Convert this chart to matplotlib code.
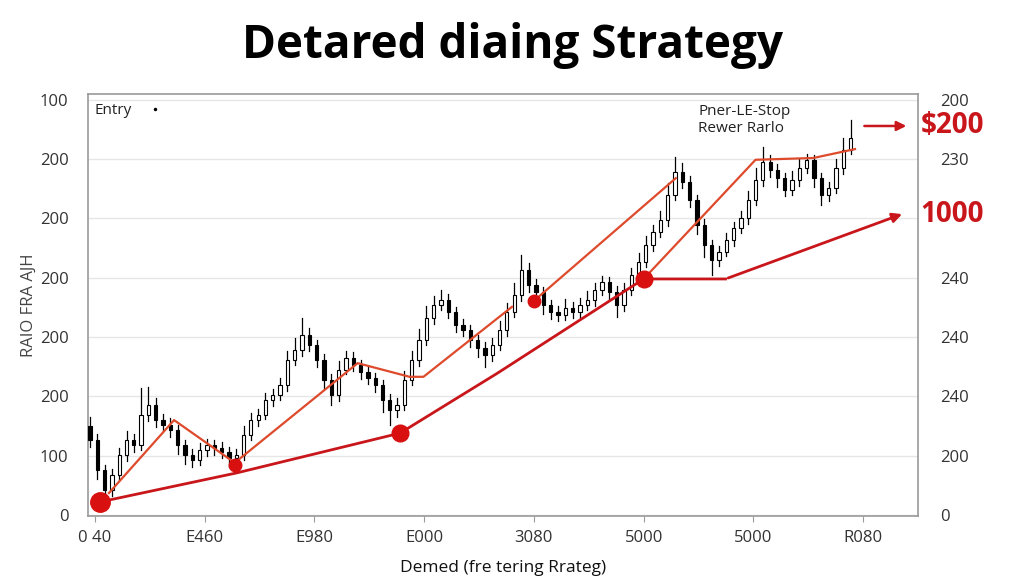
import numpy as np
import matplotlib.pyplot as plt

# candle data
closes = [126, 76, 42, 67, 101, 126, 118, 169, 185, 160,
          152, 143, 118, 101, 93, 110, 118, 113, 106, 96,
          101, 135, 160, 169, 194, 202, 219, 261, 278, 304,
          287, 261, 228, 202, 245, 265, 253, 241, 231, 219,
          194, 177, 185, 228, 261, 295, 332, 354, 363, 342,
          320, 312, 295, 282, 270, 287, 312, 342, 371, 413,
          388, 376, 354, 342, 337, 349, 342, 354, 363, 379,
          393, 376, 354, 379, 405, 427, 455, 477, 497, 540,
          578, 562, 531, 489, 455, 430, 444, 464, 484, 501,
          531, 565, 595, 582, 568, 548, 565, 585, 599, 568,
          540, 551, 585, 616, 636]
opens = [150] + closes[:-1]
wick_up = [15, 10, 8, 10, 12, 15, 10, 45, 30, 12,
           10, 12, 8, 8, 10, 12, 10, 8, 10, 8,
           10, 15, 12, 10, 12, 10, 12, 15, 20, 28,
           12, 8, 10, 10, 15, 12, 10, 8, 10, 8,
           8, 10, 12, 15, 15, 18, 20, 15, 17, 10,
           8, 10, 8, 8, 10, 12, 15, 15, 20, 25,
           12, 10, 8, 8, 10, 15, 10, 12, 15, 12,
           10, 8, 10, 12, 12, 15, 15, 12, 15, 20,
           26, 15, 10, 8, 10, 8, 10, 12, 10, 12,
           15, 20, 25, 12, 10, 8, 15, 15, 10, 8,
           8, 10, 15, 20, 30]
wick_dn = [12, 15, 20, 10, 8, 10, 12, 8, 10, 12,
           10, 12, 15, 15, 12, 8, 10, 12, 10, 15,
           10, 8, 8, 10, 8, 10, 8, 10, 8, 10,
           10, 12, 15, 17, 10, 8, 10, 12, 10, 12,
           20, 25, 12, 8, 8, 10, 8, 10, 8, 10,
           12, 10, 12, 15, 20, 10, 8, 10, 8, 10,
           12, 10, 15, 12, 10, 8, 10, 12, 8, 10,
           8, 12, 20, 10, 8, 10, 8, 10, 8, 10,
           8, 10, 12, 15, 20, 25, 10, 8, 10, 8,
           10, 8, 10, 12, 15, 10, 8, 10, 8, 15,
           18, 10, 8, 10, 8]

# strategy lines (candle index, price)
zig_x = [2.6, 11.5, 19.8, 36.6, 43.7, 45.6, 57.7]
zig_y = [37, 160, 88, 256, 233, 233, 351]
up1_x = [60.7, 80.1]
up1_y = [361, 568]
up2_x = [75.7, 91.0, 98.9, 104.6]
up2_y = [398, 599, 602, 617]
stop_x = [1.4, 20.1, 42.4, 55.7, 75.7, 86.9, 110.4]
stop_y = [22, 71, 138, 239, 398, 398, 506]

dots_x = [1.4, 19.8, 42.4, 60.7, 75.7]
dots_y = [22, 85, 138, 361, 398]
dots_s = [14, 9, 12, 9, 12]

left_labels = ["0", "100", "200", "200", "200", "200", "200", "100"]
right_ticks = [0, 100, 200, 300, 400, 600, 700]
right_labels = ["0", "200", "240", "240", "240", "230", "200"]
x_labels = ["0 40", "E460", "E980", "E000", "3080", "5000", "5000", "R080"]

plt.rcParams['font.family'] = ['Open Sans', 'DejaVu Sans']

RED = "#c8161b"
ORANGE = "#de4a2c"

fig = plt.figure(figsize=(10.24, 5.85), dpi=100)
ax = fig.add_axes([0.0859, 0.118, 0.8105, 0.7214])

n = len(closes)
for i in range(n):
    o, c = opens[i], closes[i]
    hi = max(o, c) + wick_up[i]
    lo = min(o, c) - wick_dn[i]
    ax.plot([i, i], [lo, hi], color="black", lw=0.9, zorder=2)
    bull = c >= o
    ax.bar(i, max(abs(c - o), 2), bottom=min(o, c), width=0.45,
           color="white" if bull else "black", edgecolor="black", lw=0.8, zorder=3)

ax.plot(zig_x, zig_y, color=ORANGE, lw=1.6, zorder=4)
ax.plot(up1_x, up1_y, color=ORANGE, lw=1.6, zorder=4)
ax.plot(up2_x, up2_y, color=ORANGE, lw=1.6, zorder=4)
ax.plot(stop_x[:-1], stop_y[:-1], color=RED, lw=2.0, zorder=4)
ax.annotate("", xy=(stop_x[-1] + 1.0, stop_y[-1] + 3), xytext=(stop_x[-2], stop_y[-2]),
            arrowprops=dict(arrowstyle="-|>", color=RED, lw=2.0, mutation_scale=14),
            zorder=4)
for x, y, s in zip(dots_x, dots_y, dots_s):
    ax.plot(x, y, "o", color="#d81010", ms=s, zorder=5)

# top target arrow and labels
ax.annotate("", xy=(112.0, 656), xytext=(105.5, 656),
            arrowprops=dict(arrowstyle="-|>", color=RED, lw=1.8, mutation_scale=14),
            annotation_clip=False)
ax.text(1.003, 656, "$200", transform=ax.get_yaxis_transform(), color=RED,
        fontsize=20, fontweight="bold", va="center", ha="left")
ax.text(1.003, 506, "1000", transform=ax.get_yaxis_transform(), color=RED,
        fontsize=20, fontweight="bold", va="center", ha="left")

ax.text(0.6, 682, "Entry", fontsize=11, va="center", color="#222222")
ax.plot(8.9, 684, "o", color="black", ms=1.5)
ax.text(83.2, 681, "Pner-LE-Stop", fontsize=11, va="center", color="#222222")
ax.text(83.2, 651, "Rewer Rarlo", fontsize=11, va="center", color="#222222")

ax.set_xlim(-0.27, 113.2)
ax.set_ylim(-1.7, 710)
ax.set_yticks(np.arange(0, 701, 100))
ax.set_yticklabels(left_labels)
ax.set_xticks([0.7 + 15 * k for k in range(8)])
ax.set_xticklabels(x_labels)
ax.grid(axis="y", color="#e6e6e6", lw=1)
ax.set_axisbelow(True)
for sp in ax.spines.values():
    sp.set_color("#9a9a9a")
    sp.set_linewidth(1.2)
ax.tick_params(axis="y", length=0, pad=14, labelsize=12, labelcolor="#333333")
ax.tick_params(axis="x", length=4, color="#9a9a9a", pad=6, labelsize=12, labelcolor="#333333")

ax2 = ax.twinx()
ax2.set_ylim(ax.get_ylim())
ax2.set_yticks(right_ticks)
ax2.set_yticklabels(right_labels)
ax2.tick_params(axis="y", length=0, pad=16, labelsize=12, labelcolor="#333333")
for sp in ax2.spines.values():
    sp.set_visible(False)

ax.set_xlabel("Demed (fre tering Rrateg)", fontsize=12.5, color="#111111", labelpad=10)
ax.set_ylabel("RAIO FRA AJH", fontsize=12, color="#444444", labelpad=2)
fig.text(0.5, 0.923, "Detared diaing Strategy", fontsize=33, fontweight="bold",
         ha="center", va="center")

fig.savefig("out.png", dpi=100)
